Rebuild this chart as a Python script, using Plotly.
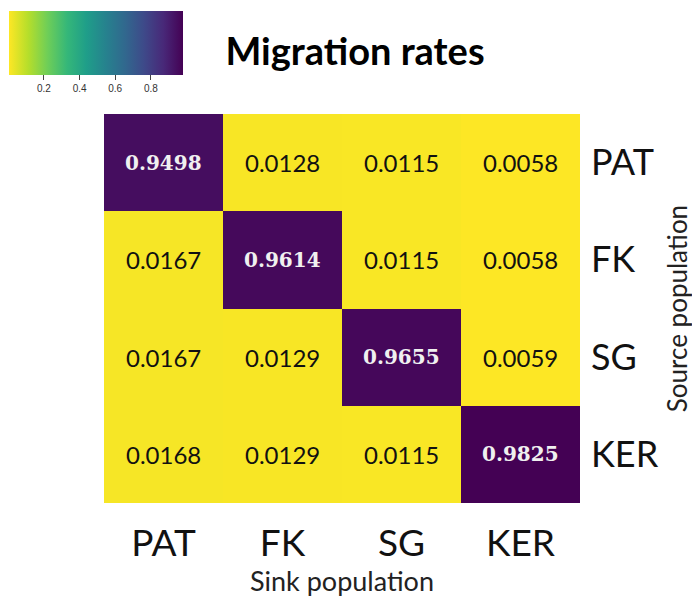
import plotly.graph_objects as go

sinks = ["PAT", "FK", "SG", "KER"]
sources = ["PAT", "FK", "SG", "KER"]
rates = [
    [0.9498, 0.0128, 0.0115, 0.0058],
    [0.0167, 0.9614, 0.0115, 0.0058],
    [0.0167, 0.0129, 0.9655, 0.0059],
    [0.0168, 0.0129, 0.0115, 0.9825],
]
cb_ticks = [0.2, 0.4, 0.6, 0.8]

W, H = 700, 600
OFF = 8  # page body margin in the browser
ml, mt = 104 - OFF, 114 - OFF
pw, ph = 476, 389
mr, mb = W - ml - pw, H - mt - ph

fig = go.Figure(go.Heatmap(
    z=rates, x=sinks, y=sources,
    colorscale="Viridis", reversescale=True,
    xgap=0, ygap=0,
    hoverinfo="skip",
    colorbar=dict(
        orientation="h",
        xref="container", yref="container",
        x=(10 - OFF) / W, xanchor="left",
        y=1 - (11 - OFF) / H, yanchor="top",
        lenmode="pixels", len=174,
        thickness=64, thicknessmode="pixels",
        xpad=0, ypad=0, outlinewidth=0,
        tickvals=cb_ticks, ticks="outside", ticklen=5, tickcolor="#444",
        tickfont=dict(family="Liberation Sans, Arial", size=10, color="#333"),
    ),
))

for i, src in enumerate(sources):
    for j, snk in enumerate(sinks):
        v = rates[i][j]
        if i == j:
            font = dict(family="DejaVu Serif", size=20, color="#f0f0f0")
            txt = f"<b>{v:.4f}</b>"
        else:
            font = dict(family="Lato", size=24, color="#111")
            txt = f"{v:.4f}"
        fig.add_annotation(x=snk, y=src, text=txt, showarrow=False, font=font)

fig.update_layout(
    width=W, height=H,
    margin=dict(l=ml, r=mr, t=mt, b=mb, autoexpand=False),
    paper_bgcolor="white", plot_bgcolor="white",
    title=dict(text="<b>Migration rates</b>", x=(355 - OFF) / W, xanchor="center",
               y=1 - (52 - OFF) / H, yanchor="middle",
               font=dict(family="Lato", size=38, color="black")),
    xaxis=dict(showgrid=False, zeroline=False, showline=False, ticks="",
               ticklabelstandoff=15,
               tickfont=dict(family="Lato", size=37, color="#111"),
               title=dict(text="Sink population", standoff=6,
                          font=dict(family="Lato", size=27, color="#222"))),
    yaxis=dict(showgrid=False, zeroline=False, showline=False, ticks="",
               side="right", autorange="reversed", ticklabelstandoff=10,
               tickfont=dict(family="Lato", size=36, color="#111"),
               title=dict(text="Source population", standoff=11,
                          font=dict(family="Lato", size=26, color="#222"))),
)

fig.write_html("out.html")
